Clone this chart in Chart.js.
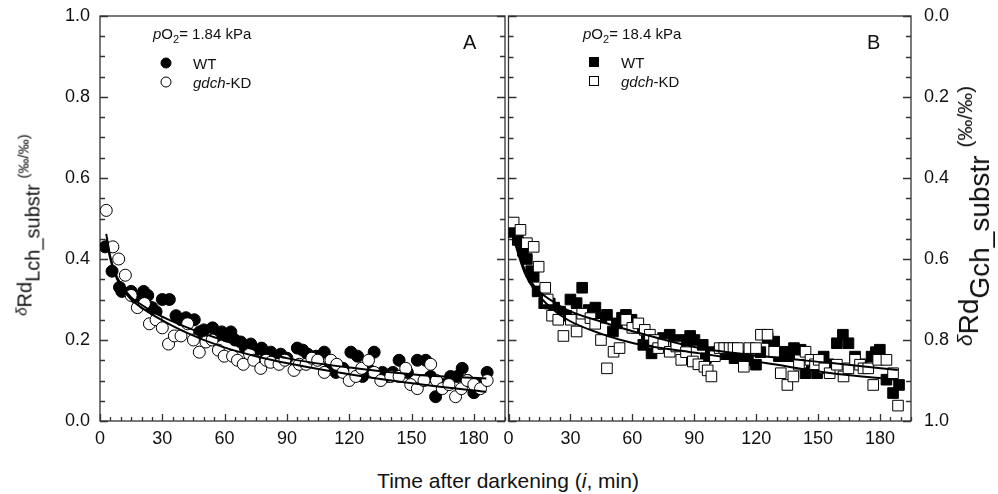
<!DOCTYPE html>
<html lang="en">
<head>
  <meta charset="UTF-8" />
  <title>Rd substrate decay after darkening</title>
  <script src="https://cdn.jsdelivr.net/npm/chart.js"></script>
  <style>
    body { margin: 0; background: #fff; font-family: "Liberation Sans", Arial, sans-serif; color: #111; }
    #wrap { position: relative; width: 998px; height: 494px; overflow: hidden; }
    .box { position: absolute; top: 0; height: 460px; }
    .txt { position: absolute; white-space: nowrap; transform: translateY(-50%); line-height: 1; }
    .ytitle { position: absolute; white-space: nowrap; font-size: 20px; line-height: 1;
              transform: translate(-50%, -50%) rotate(-90deg); }
    .ytitle .d { font-size: 15px; font-style: italic; vertical-align: 5px; }
    .ytitle sub { font-size: 20px; vertical-align: -8px; }
    .ytitle .u { font-size: 15px; vertical-align: 3px; }
    .ytitle.big { font-size: 28px; }
    .ytitle.big sub { font-size: 28px; vertical-align: -11px; }
    .ytitle.big .u, .ytitle.big .d { font-size: 21px; vertical-align: 6px; }
    .mk { position: absolute; box-sizing: border-box; border: 1px solid #000; transform: translate(-50%, -50%); }
  </style>
</head>
<body>
<div id="wrap">
  <div class="box" style="left:0;width:512px"><canvas id="chartA"></canvas></div>
  <div class="box" style="left:500px;width:498px"><canvas id="chartB"></canvas></div>

  <!-- axis titles -->
  <div class="ytitle" style="left:28px;top:225px"><span class="d">δ</span>Rd<sub>Lch_substr</sub> <span class="u">(‰/‰)</span></div>
  <div class="ytitle big" style="left:974px;top:216px"><span class="d">δ</span>Rd<sub>Gch_substr</sub> <span class="u">(‰/‰)</span></div>
  <div class="txt" style="left:508px;top:480px;font-size:21px;transform:translate(-50%,-50%)">Time after darkening (<i>i</i>, min)</div>

  <!-- panel A notes -->
  <div class="txt" style="left:153px;top:35px;font-size:15px"><i>p</i>O<sub style="font-size:11px">2</sub>= 1.84 kPa</div>
  <div class="txt" style="left:463px;top:42px;font-size:20px">A</div>
  <span class="mk" style="left:166px;top:63px;width:11px;height:11px;border-radius:50%;background:#000"></span>
  <span class="mk" style="left:166px;top:82px;width:11px;height:11px;border-radius:50%;background:#fff"></span>
  <div class="txt" style="left:193px;top:63px;font-size:15px">WT</div>
  <div class="txt" style="left:193px;top:82px;font-size:15px"><i>gdch</i>-KD</div>

  <!-- panel B notes -->
  <div class="txt" style="left:583px;top:35px;font-size:15px"><i>p</i>O<sub style="font-size:11px">2</sub>= 18.4 kPa</div>
  <div class="txt" style="left:867px;top:42px;font-size:20px">B</div>
  <span class="mk" style="left:594px;top:62px;width:10px;height:10px;background:#000"></span>
  <span class="mk" style="left:594px;top:81px;width:10px;height:10px;background:#fff"></span>
  <div class="txt" style="left:621px;top:62px;font-size:15px">WT</div>
  <div class="txt" style="left:621px;top:81px;font-size:15px"><i>gdch</i>-KD</div>
</div>

<script>
  // ---- panel A: pO2 = 1.84 kPa, left axis (0 bottom -> 1 top)
  const aWtTime = [2.5, 5.8, 9.4, 10.5, 15, 18, 21, 23, 25, 27, 30, 33.4, 36.6, 39, 41.4, 45.4, 48, 50, 54.2, 56, 58.6, 61, 63, 65, 67.8, 70, 72.6, 75, 77.8, 80, 82.2, 85, 87, 90, 95, 97.6, 100, 104, 108, 111, 113.6, 117, 120.8, 124, 126.4, 129, 132, 136, 138.4, 141, 144, 148, 152.8, 156.8, 159.2, 161.6, 165, 168.8, 172, 174.4, 177, 180, 183, 186.4];
  const aWtVal  = [0.43, 0.37, 0.33, 0.32, 0.32, 0.30, 0.32, 0.31, 0.28, 0.27, 0.30, 0.30, 0.26, 0.25, 0.255, 0.25, 0.22, 0.225, 0.23, 0.21, 0.22, 0.21, 0.22, 0.20, 0.195, 0.18, 0.19, 0.175, 0.18, 0.165, 0.17, 0.16, 0.165, 0.155, 0.18, 0.175, 0.165, 0.16, 0.17, 0.14, 0.12, 0.13, 0.17, 0.16, 0.11, 0.13, 0.17, 0.12, 0.11, 0.12, 0.15, 0.12, 0.15, 0.15, 0.11, 0.06, 0.09, 0.11, 0.11, 0.13, 0.10, 0.07, 0.09, 0.12];
  const aKdTime = [3, 6.2, 9, 12.2, 15, 18, 21.4, 23.8, 27, 30, 33, 35.8, 39, 42.2, 45, 47.8, 51, 54, 57, 59.8, 63.8, 66.2, 69, 72, 74, 77.4, 80, 82.2, 86.2, 89, 93.4, 96, 99.2, 102, 104.8, 108, 111.2, 114, 117, 120, 123.2, 126, 129.3, 132, 135.2, 140, 144, 147.2, 149.6, 152.8, 156, 159.2, 162, 164.8, 168, 171.2, 174, 176.8, 180, 183.2, 186.4];
  const aKdVal  = [0.52, 0.43, 0.40, 0.36, 0.31, 0.28, 0.29, 0.24, 0.25, 0.23, 0.19, 0.21, 0.21, 0.24, 0.20, 0.17, 0.195, 0.20, 0.175, 0.16, 0.16, 0.15, 0.14, 0.165, 0.15, 0.13, 0.15, 0.145, 0.14, 0.15, 0.125, 0.14, 0.14, 0.155, 0.15, 0.12, 0.15, 0.14, 0.12, 0.10, 0.11, 0.13, 0.15, 0.12, 0.10, 0.11, 0.11, 0.13, 0.09, 0.08, 0.10, 0.14, 0.10, 0.08, 0.09, 0.06, 0.08, 0.10, 0.09, 0.08, 0.10];
  const aFitTime = [3, 5, 7, 10, 15, 20, 27, 40, 59, 75, 91, 123, 155, 186];
  const aFitWt   = [0.462, 0.405, 0.37, 0.338, 0.305, 0.287, 0.265, 0.235, 0.2, 0.175, 0.154, 0.13, 0.113, 0.105];
  const aFitKd   = [0.45, 0.40, 0.365, 0.333, 0.30, 0.28, 0.257, 0.222, 0.183, 0.16, 0.142, 0.113, 0.09, 0.072];

  // ---- panel B: pO2 = 18.4 kPa, right axis (0 top -> 1 bottom)
  const bWtTime = [1.6, 4.5, 7, 8.9, 11, 12.2, 14.1, 17.3, 20, 22.1, 25, 28, 30, 33, 35.7, 38.9, 42.1, 45, 47.7, 50.6, 52.5, 55, 56.9, 59.6, 62, 65.3, 67, 69.3, 72, 74.9, 78.1, 81, 83, 86.1, 88, 90.1, 94.1, 95.6, 98, 101.6, 105, 109.5, 113.5, 116, 119.9, 122, 125.5, 128.7, 131, 133.5, 136, 138.3, 141.5, 143.9, 147, 149.5, 152.7, 155, 159.1, 162, 164.7, 167.9, 171, 175.9, 178, 179.9, 183.1, 186.3, 189.2];
  const bWtVal  = [0.533, 0.553, 0.58, 0.60, 0.63, 0.644, 0.68, 0.709, 0.71, 0.72, 0.73, 0.74, 0.70, 0.709, 0.671, 0.726, 0.72, 0.745, 0.738, 0.779, 0.759, 0.745, 0.738, 0.75, 0.77, 0.812, 0.80, 0.833, 0.815, 0.795, 0.787, 0.80, 0.81, 0.80, 0.79, 0.80, 0.812, 0.845, 0.83, 0.83, 0.835, 0.845, 0.841, 0.85, 0.861, 0.83, 0.795, 0.804, 0.84, 0.829, 0.84, 0.82, 0.824, 0.882, 0.86, 0.882, 0.841, 0.86, 0.808, 0.787, 0.808, 0.841, 0.86, 0.841, 0.83, 0.824, 0.898, 0.931, 0.911];
  const bKdTime = [2.5, 5.8, 8.9, 12.2, 14.6, 17.8, 19, 21.1, 24.1, 26.6, 30.2, 33, 35.7, 39.7, 42, 44.8, 47.7, 50.9, 53.8, 57, 60, 62.9, 66, 68.5, 70.5, 72.5, 75, 78.1, 81.3, 83.7, 86, 89.3, 92, 94.9, 96.5, 98.3, 100, 102.3, 104.5, 107.1, 109, 111.1, 114, 116.7, 119.9, 122.3, 125.5, 128.7, 131.9, 135.1, 138, 140.7, 143.9, 146.3, 148.5, 150.3, 153, 155.6, 159.1, 162.3, 164.7, 167.9, 170.3, 172, 174.3, 176.7, 179.1, 183.1, 186.3, 188.7];
  const bKdVal  = [0.51, 0.528, 0.561, 0.57, 0.619, 0.671, 0.70, 0.74, 0.75, 0.79, 0.75, 0.779, 0.735, 0.746, 0.76, 0.80, 0.87, 0.829, 0.82, 0.75, 0.77, 0.759, 0.775, 0.787, 0.80, 0.82, 0.81, 0.829, 0.816, 0.849, 0.83, 0.853, 0.86, 0.866, 0.875, 0.89, 0.84, 0.82, 0.82, 0.82, 0.82, 0.82, 0.866, 0.82, 0.82, 0.787, 0.787, 0.829, 0.882, 0.911, 0.89, 0.861, 0.829, 0.849, 0.86, 0.849, 0.87, 0.882, 0.861, 0.89, 0.87, 0.849, 0.861, 0.87, 0.87, 0.911, 0.849, 0.849, 0.882, 0.962];
  const bFitTime = [2.3, 5, 8, 12.6, 20, 28.6, 45, 60.6, 92.6, 124.6, 156.6, 188.6];
  const bFitWt   = [0.537, 0.585, 0.628, 0.668, 0.70, 0.726, 0.755, 0.779, 0.82, 0.841, 0.857, 0.874];
  const bFitKd   = [0.545, 0.592, 0.636, 0.677, 0.718, 0.75, 0.785, 0.808, 0.833, 0.857, 0.882, 0.898];

  const timeMax = 195;
  const timeStep = 30, timeMinor = 5;
  const valStep = 0.2, valMinor = 0.05;

  Chart.defaults.font.family = '"Liberation Sans", Arial, sans-serif';
  Chart.defaults.color = '#111';

  const pts = (xs, ys) => xs.map((x, i) => ({ x: x, y: ys[i] }));

  // box around the plot + inward ticks
  const framePlugin = {
    id: 'frame',
    beforeDatasetsDraw(chart) {
      const { ctx, chartArea: a, scales: { x, y } } = chart;
      ctx.save();
      ctx.strokeStyle = '#333';
      ctx.lineWidth = 1.3;
      ctx.strokeRect(a.left, a.top, a.right - a.left, a.bottom - a.top);
      ctx.beginPath();
      for (let t = 0; t <= timeMax + 0.01; t += timeMinor) {
        const px = Math.round(x.getPixelForValue(t)) + 0.5;
        const len = Math.round(t) % timeStep === 0 ? 7 : 4;
        ctx.moveTo(px, a.bottom);
        ctx.lineTo(px, a.bottom - len);
      }
      for (let k = 0; k <= 20; k++) {
        const v = k * valMinor;
        const py = Math.round(y.getPixelForValue(v)) + 0.5;
        const len = k % 4 === 0 ? 8 : 5;
        ctx.moveTo(a.left, py); ctx.lineTo(a.left + len, py);
        ctx.moveTo(a.right, py); ctx.lineTo(a.right - len, py);
      }
      ctx.stroke();
      ctx.restore();
    }
  };

  function scatterSet(xs, ys, shape, fill, r) {
    return {
      data: pts(xs, ys), pointStyle: shape, pointRadius: r,
      backgroundColor: fill, borderColor: '#000', borderWidth: 1
    };
  }
  function fitSet(xs, ys) {
    return {
      data: pts(xs, ys), showLine: true, pointRadius: 0, borderColor: '#000',
      borderWidth: 2, cubicInterpolationMode: 'monotone', order: 0
    };
  }

  function makeChart(id, sets, side, pad) {
    const yAxis = {
      position: side, min: 0, max: 1, reverse: side === 'right',
      grid: { display: false, drawTicks: false }, border: { display: false },
      ticks: { stepSize: valStep, padding: side === 'right' ? 13 : 10, font: { size: 18 },
               callback: v => v.toFixed(1) },
      afterFit: s => { s.width = side === 'right' ? 87 : 100; s.paddingTop = 0; s.paddingBottom = 0; }
    };
    return new Chart(document.getElementById(id), {
      type: 'scatter',
      data: { datasets: sets },
      options: {
        responsive: true, maintainAspectRatio: false, animation: false, events: [],
        layout: { padding: pad },
        plugins: { legend: { display: false }, tooltip: { enabled: false } },
        scales: {
          x: {
            type: 'linear', min: 0, max: timeMax,
            grid: { display: false, drawTicks: false }, border: { display: false },
            ticks: { stepSize: timeStep, includeBounds: false, autoSkip: false, padding: 7, font: { size: 18 } },
            afterFit: s => { s.height = 39; s.paddingLeft = 0; s.paddingRight = 0; }
          },
          y: yAxis
        }
      },
      plugins: [framePlugin]
    });
  }

  makeChart('chartA', [
    fitSet(aFitTime, aFitWt),
    fitSet(aFitTime, aFitKd),
    Object.assign(scatterSet(aKdTime, aKdVal, 'circle', '#fff', 6), { order: 1 }),
    Object.assign(scatterSet(aWtTime, aWtVal, 'circle', '#000', 6), { order: 2 })
  ], 'left', { top: 16, right: 6, left: 0, bottom: 0 });

  makeChart('chartB', [
    fitSet(bFitTime, bFitWt),
    fitSet(bFitTime, bFitKd),
    Object.assign(scatterSet(bKdTime, bKdVal, 'rect', '#fff', 7.5), { order: 1 }),
    Object.assign(scatterSet(bWtTime, bWtVal, 'rect', '#000', 7.5), { order: 2 })
  ], 'right', { top: 16, right: 0, left: 6, bottom: 0 });
</script>
</body>
</html>
